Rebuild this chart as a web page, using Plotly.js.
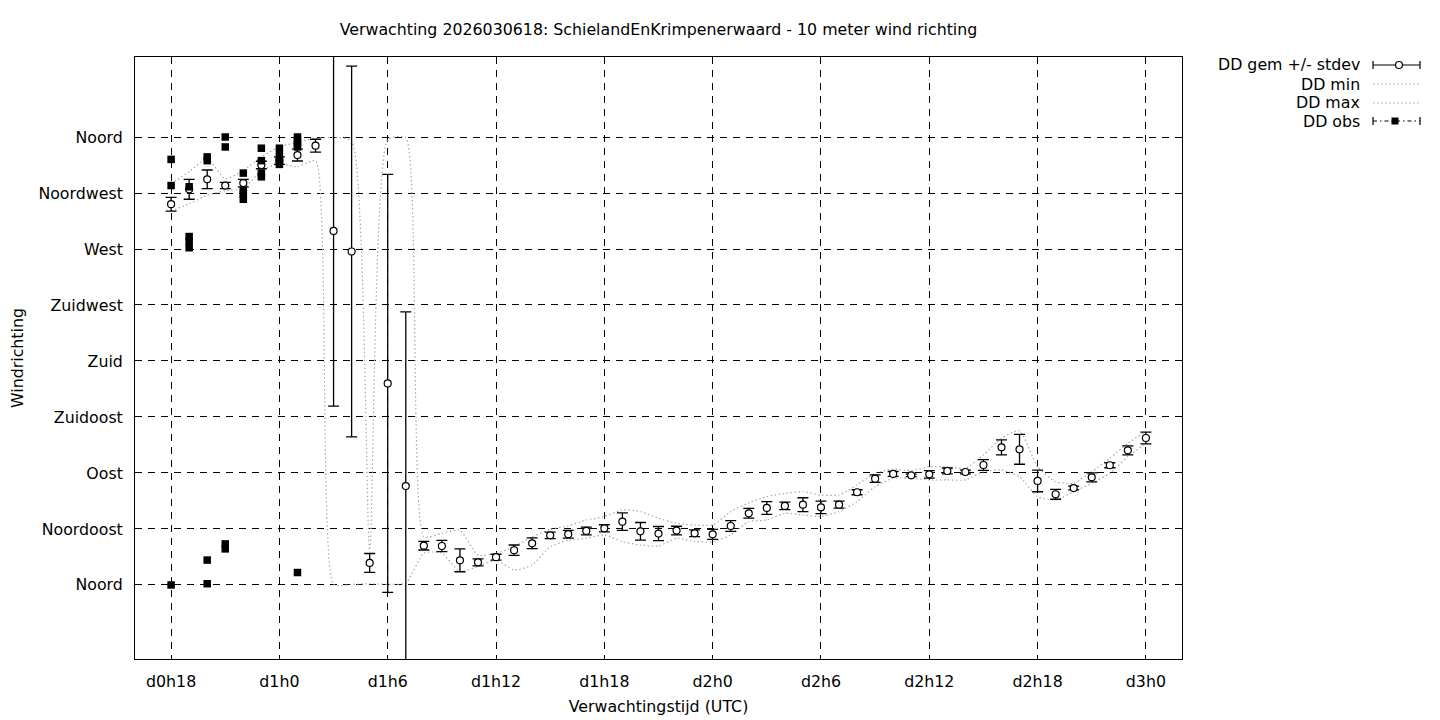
<!DOCTYPE html>
<html>
<head>
<meta charset="utf-8">
<script src="https://cdn.plot.ly/plotly-3.0.1.min.js"></script>
<style>
  html, body { margin: 0; padding: 0; background: #fff; }
  #chart { width: 1440px; height: 720px; }
</style>
</head>
<body>
<div id="chart"></div>
<script>
// ---- data ----
const chartTitle = "Verwachting 2026030618: SchielandEnKrimpenerwaard - 10 meter wind richting";
const xTitle = "Verwachtingstijd (UTC)";
const yTitle = "Windrichting";

const xTickVals = [18, 24, 30, 36, 42, 48, 54, 60, 66, 72];
const xTickText = ["d0h18", "d1h0", "d1h6", "d1h12", "d1h18", "d2h0", "d2h6", "d2h12", "d2h18", "d3h0"];
const yTickVals = [0, 45, 90, 135, 180, 225, 270, 315, 360];
const yTickText = ["Noord", "Noordoost", "Oost", "Zuidoost", "Zuid", "Zuidwest", "West", "Noordwest", "Noord"];

const hours = [18, 19, 20, 21, 22, 23, 24, 25, 26, 27, 28, 29, 30, 31, 32, 33, 34, 35, 36, 37,
               38, 39, 40, 41, 42, 43, 44, 45, 46, 47, 48, 49, 50, 51, 52, 53, 54, 55, 56, 57,
               58, 59, 60, 61, 62, 63, 64, 65, 66, 67, 68, 69, 70, 71, 72];
const ddMean = [306, 318, 326, 321, 323, 337.5, 341, 345.5, 353, 284.5, 268, 17.7, 162, 79.5, 31.6, 31.3, 19.8, 18.2, 22.3, 27.9,
                33.5, 39.9, 40.8, 43.4, 45.5, 50.9, 43.1, 41.3, 43.7, 41.5, 40.7, 47.4, 57.6, 61.9, 63.5, 64.5, 62.4, 64.5, 74.5, 85.4,
                89.2, 88.1, 88.9, 91.6, 90.8, 96.4, 110.6, 109, 83.6, 72.9, 77.9, 86.5, 96.2, 108.2, 118.1];
const ddStdev = [5.5, 8, 7.5, 2.5, 3, 3, 3, 4.8, 5.2, 140.7, 149, 7.6, 168, 140, 3.5, 4.5, 9.2, 2.8, 2.4, 4.2,
                 4.3, 2.6, 3.1, 3.1, 2.9, 7, 7.1, 5.7, 3.5, 2.7, 4, 4.3, 3.9, 5.1, 3, 5.6, 5, 2.8, 2, 3,
                 2, 1, 3, 2.4, 1.5, 4.3, 6, 12, 8.7, 4, 1.5, 3.6, 2, 3.6, 4.7];
const ddMin = [300.5, 306.4, 313, 317, 318.5, 333, 338.6, 336, 341, 0.5, 0.5, 1, 0.5, 1.5, 25.6, 25.6, 10.7, 14.7, 20, 12,
               16, 30.8, 35.8, 37.5, 40.2, 34.8, 32.1, 31.3, 37.5, 34.8, 34.8, 40.2, 50.9, 52.2, 57.6, 56.3, 55, 58.9, 67, 79,
               85.7, 85.7, 84.4, 84.4, 84.4, 91, 92.4, 87, 71, 68.3, 75, 81.7, 89.8, 103.1, 113.9];
const ddMax = [322.5, 332, 342.6, 326.5, 333, 344, 352, 356, 359, 359.5, 357, 28, 358, 359.5, 38.8, 41.5, 44, 24, 25.4, 30.8,
               38.8, 44.7, 47.5, 52.2, 55, 60.3, 58.9, 53.6, 49.6, 48.2, 48.2, 58.9, 66, 71, 73.6, 75, 72.3, 72.3, 80.4, 89.8,
               93, 91.9, 95, 95, 93.8, 104.5, 117.9, 124, 95, 83, 81.7, 91, 101.8, 113.9, 123.2];

const obsHours = [18, 18, 18, 19, 19, 19, 19, 20, 20, 20, 20, 21, 21, 21, 21, 22, 22, 22, 22,
                  23, 23, 23, 23, 24, 24, 24, 24, 25, 25, 25, 25, 25];
const obsDir = [342, 321, 0, 320, 280, 276, 271, 344, 341, 20, 1, 360, 352, 33, 29, 331, 317, 314, 310,
                351, 341, 331, 328, 351, 345, 341, 338, 360, 357, 354, 352, 10];

const legendNames = ["DD gem +/- stdev", "DD min", "DD max", "DD obs"];

// ---- layout helpers (pixel -> paper) ----
const L = 135, R = 1182, T = 57, B = 659;
const px = v => (v - L) / (R - L);
const py = v => (B - v) / (B - T);
const FONT = "DejaVu Sans, Liberation Sans, sans-serif";
const FS = 15.8;

const traces = [
  {
    x: hours, y: ddMin, type: "scatter", mode: "lines", name: legendNames[1], showlegend: false,
    line: { color: "#a8a8a8", width: 1.2, dash: "1.5px,2.5px", shape: "spline", smoothing: 0.55 },
    hoverinfo: "skip"
  },
  {
    x: hours, y: ddMax, type: "scatter", mode: "lines", name: legendNames[2], showlegend: false,
    line: { color: "#a8a8a8", width: 1.2, dash: "1.5px,2.5px", shape: "spline", smoothing: 0.55 },
    hoverinfo: "skip"
  },
  {
    x: hours, y: ddMean, type: "scatter", mode: "markers", name: legendNames[0], showlegend: false,
    marker: { symbol: "circle", size: 7, color: "#ffffff", line: { color: "#000000", width: 1.2 } },
    error_y: { type: "data", array: ddStdev, visible: true, color: "#000000", thickness: 1.3, width: 5.5 }
  },
  {
    x: obsHours, y: obsDir, type: "scatter", mode: "markers", name: legendNames[3], showlegend: false,
    marker: { symbol: "square", size: 7.5, color: "#000000", line: { width: 0 } }
  }
];

// custom gnuplot-like legend (text right, sample left)
const rowsY = [65, 84, 103, 121];
const sx0 = 1373, sx1 = 1420, textRight = 1362;
const annotations = legendNames.map((n, i) => ({
  text: n, xref: "paper", yref: "paper", x: px(textRight), y: py(rowsY[i]),
  xanchor: "right", yanchor: "middle", showarrow: false,
  font: { family: FONT, size: FS, color: "#000" }
}));

const shapes = [];
function hline(y, dash, color) {
  shapes.push({ type: "line", xref: "paper", yref: "paper", x0: px(sx0), x1: px(sx1), y0: py(y), y1: py(y),
    line: { color: color, width: 1.2, dash: dash } });
}
function caps(y) {
  [sx0, sx1].forEach(x => shapes.push({ type: "line", xref: "paper", yref: "paper", x0: px(x), x1: px(x),
    y0: py(y - 4), y1: py(y + 4), line: { color: "#000", width: 1.2 } }));
}
hline(rowsY[0], "solid", "#000"); caps(rowsY[0]);
shapes.push({ type: "circle", xref: "paper", yref: "paper", xsizemode: "pixel", ysizemode: "pixel",
  xanchor: px(1399), yanchor: py(rowsY[0]), x0: -3.5, x1: 3.5, y0: -3.5, y1: 3.5,
  fillcolor: "#fff", line: { color: "#000", width: 1.2 } });
hline(rowsY[1], "1.5px,2.5px", "#a8a8a8");
hline(rowsY[2], "1.5px,2.5px", "#a8a8a8");
hline(rowsY[3], "4px,3px,1.5px,3px", "#000"); caps(rowsY[3]);
shapes.push({ type: "rect", xref: "paper", yref: "paper", xsizemode: "pixel", ysizemode: "pixel",
  xanchor: px(1395), yanchor: py(rowsY[3]), x0: -3.5, x1: 3.5, y0: -3.5, y1: 3.5,
  fillcolor: "#000", line: { color: "#000", width: 0 } });

const layout = {
  width: 1440, height: 720,
  paper_bgcolor: "#fff", plot_bgcolor: "#fff",
  margin: { l: L, r: 1440 - R, t: T, b: 720 - B, pad: 0 },
  showlegend: false,
  font: { family: FONT, size: FS, color: "#000" },
  title: {
    text: chartTitle, font: { family: FONT, size: FS, color: "#000" },
    xref: "paper", x: 0.5, xanchor: "center", yref: "container", y: 1 - 29 / 720, yanchor: "middle"
  },
  xaxis: {
    range: [16, 74], tickvals: xTickVals, ticktext: xTickText,
    showgrid: true, gridcolor: "#000", gridwidth: 1, griddash: "7px,6px",
    showline: true, mirror: true, linecolor: "#000", linewidth: 1,
    ticks: "", zeroline: false, ticklabelstandoff: 8,
    tickfont: { family: FONT, size: FS, color: "#000" },
    title: { text: xTitle, standoff: 10, font: { family: FONT, size: FS, color: "#000" } }
  },
  yaxis: {
    range: [-59.5, 424.3], tickvals: yTickVals, ticktext: yTickText,
    showgrid: true, gridcolor: "#000", gridwidth: 1, griddash: "7px,6px",
    showline: true, mirror: true, linecolor: "#000", linewidth: 1,
    ticks: "", zeroline: false, ticklabelstandoff: 8,
    tickfont: { family: FONT, size: FS, color: "#000" },
    title: { text: yTitle, standoff: 10, font: { family: FONT, size: FS, color: "#000" } }
  },
  annotations: annotations,
  shapes: shapes
};

Plotly.newPlot("chart", traces, layout, { displayModeBar: false, staticPlot: true });
</script>
</body>
</html>
